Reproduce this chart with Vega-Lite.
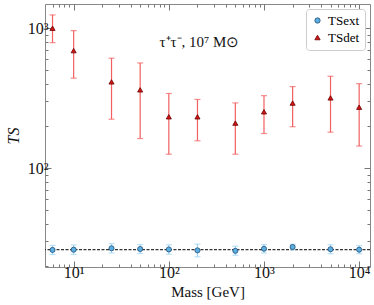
{
  "$schema": "https://vega.github.io/schema/vega-lite/v6.json",
  "width": 325,
  "height": 263,
  "autosize": "none",
  "padding": {"left": 45, "top": 4, "right": 4, "bottom": 38},
  "config": {
    "font": "Liberation Serif",
    "view": {"stroke": "#888", "strokeWidth": 1},
    "axis": {"grid": false, "domain": false, "labelFont": "Liberation Serif", "titleFont": "Liberation Serif", "labelColor": "#111", "titleColor": "#111", "tickColor": "#777", "titleFontWeight": "normal"},
    "scale": {"nice": false}
  },
  "data": {
    "values": [
      {"mass": 6, "series": "TSdet", "ts": 1000, "lo": 789, "hi": 1245},
      {"mass": 10, "series": "TSdet", "ts": 692, "lo": 440, "hi": 962},
      {"mass": 25, "series": "TSdet", "ts": 414, "lo": 224, "hi": 611},
      {"mass": 50, "series": "TSdet", "ts": 363, "lo": 163, "hi": 565},
      {"mass": 100, "series": "TSdet", "ts": 233, "lo": 126, "hi": 342},
      {"mass": 200, "series": "TSdet", "ts": 233, "lo": 157, "hi": 310},
      {"mass": 500, "series": "TSdet", "ts": 210, "lo": 126, "hi": 293},
      {"mass": 1000, "series": "TSdet", "ts": 253, "lo": 177, "hi": 330},
      {"mass": 2000, "series": "TSdet", "ts": 292, "lo": 198, "hi": 383},
      {"mass": 5000, "series": "TSdet", "ts": 318, "lo": 181, "hi": 454},
      {"mass": 10000, "series": "TSdet", "ts": 273, "lo": 144, "hi": 402},
      {"mass": 6, "series": "TSext", "ts": 26.1, "lo": 24.2, "hi": 28.1},
      {"mass": 10, "series": "TSext", "ts": 26.2, "lo": 24.2, "hi": 28.3},
      {"mass": 25, "series": "TSext", "ts": 26.8, "lo": 24.8, "hi": 28.9},
      {"mass": 50, "series": "TSext", "ts": 26.5, "lo": 24.6, "hi": 28.5},
      {"mass": 100, "series": "TSext", "ts": 26.3, "lo": 24.3, "hi": 28.4},
      {"mass": 200, "series": "TSext", "ts": 25.9, "lo": 23.3, "hi": 28.7},
      {"mass": 500, "series": "TSext", "ts": 25.7, "lo": 23.9, "hi": 27.7},
      {"mass": 1000, "series": "TSext", "ts": 26.6, "lo": 24.8, "hi": 28.5},
      {"mass": 2000, "series": "TSext", "ts": 27.4, "lo": 26.2, "hi": 28.6},
      {"mass": 5000, "series": "TSext", "ts": 26.4, "lo": 24.5, "hi": 28.4},
      {"mass": 10000, "series": "TSext", "ts": 26.2, "lo": 24.5, "hi": 28.0}
    ]
  },
  "resolve": {"axis": {"x": "independent", "y": "independent"}},
  "layer": [
    {
      "data": {"values": [{"level": 26.2}]},
      "mark": {"type": "rule", "color": "#333", "strokeDash": [3, 1.5], "strokeWidth": 1.2},
      "encoding": {
        "y": {"field": "level", "type": "quantitative", "scale": {"type": "log", "domain": [19.7, 1490], "nice": false}, "axis": null}
      }
    },
    {
      "transform": [{"filter": "datum.series == 'TSext'"}],
      "layer": [
        {"mark": {"type": "rule", "color": "#9fd4f2", "strokeWidth": 1.2}},
        {"mark": {"type": "tick", "orient": "horizontal", "color": "#9fd4f2", "size": 6, "thickness": 1.2}, "encoding": {"y": {"field": "lo", "type": "quantitative"}}},
        {"mark": {"type": "tick", "orient": "horizontal", "color": "#9fd4f2", "size": 6, "thickness": 1.2}, "encoding": {"y": {"field": "hi", "type": "quantitative"}}}
      ],
      "encoding": {
        "x": {"field": "mass", "type": "quantitative", "scale": {"type": "log", "domain": [5, 13000], "nice": false}, "axis": null},
        "y": {"field": "lo", "type": "quantitative", "axis": null},
        "y2": {"field": "hi"}
      }
    },
    {
      "transform": [{"filter": "datum.series == 'TSdet'"}],
      "layer": [
        {"mark": {"type": "rule", "color": "#f26060", "strokeWidth": 1.2}},
        {"mark": {"type": "tick", "orient": "horizontal", "color": "#f26060", "size": 6, "thickness": 1.2}, "encoding": {"y": {"field": "lo", "type": "quantitative"}}},
        {"mark": {"type": "tick", "orient": "horizontal", "color": "#f26060", "size": 6, "thickness": 1.2}, "encoding": {"y": {"field": "hi", "type": "quantitative"}}}
      ],
      "encoding": {
        "x": {"field": "mass", "type": "quantitative", "axis": null},
        "y": {"field": "lo", "type": "quantitative", "axis": null},
        "y2": {"field": "hi"}
      }
    },
    {
      "mark": {"type": "point", "filled": true, "opacity": 1, "size": 26, "strokeWidth": 0.8},
      "encoding": {
        "x": {"field": "mass", "type": "quantitative", "title": "Mass [GeV]",
          "axis": {"orient": "bottom", "values": [6,7,8,9,10,20,30,40,50,60,70,80,90,100,200,300,400,500,600,700,800,900,1000,2000,3000,4000,5000,6000,7000,8000,9000,10000],
            "labelExpr": "datum.value == 10 ? '10¹' : datum.value == 100 ? '10²' : datum.value == 1000 ? '10³' : datum.value == 10000 ? '10⁴' : ''",
            "tickSize": {"condition": {"test": "indexof([10,100,1000,10000], datum.value) >= 0", "value": -6}, "value": -3},
            "labelFontSize": 16, "labelPadding": 3, "titleFontSize": 15, "titlePadding": 1, "labelFlush": false, "labelOverlap": false}},
        "y": {"field": "ts", "type": "quantitative", "title": "TS",
          "axis": {"orient": "left", "values": [20,30,40,50,60,70,80,90,100,200,300,400,500,600,700,800,900,1000],
            "labelExpr": "datum.value == 100 ? '10²' : datum.value == 1000 ? '10³' : ''",
            "tickSize": {"condition": {"test": "indexof([100,1000], datum.value) >= 0", "value": -6}, "value": -3},
            "labelFontSize": 16, "labelPadding": 3, "titleFontSize": 16, "titleFontStyle": "italic", "titlePadding": 6, "labelFlush": false, "labelOverlap": false}},
        "fill": {"field": "series", "type": "nominal", "scale": {"domain": ["TSext", "TSdet"], "range": ["#5aaee0", "#d41414"]},
          "legend": {"title": null, "orient": "top-right", "offset": 5, "fillColor": "white", "strokeColor": "#ccc", "padding": 5, "cornerRadius": 3, "labelFont": "Liberation Serif", "labelFontSize": 13, "rowPadding": 3, "symbolSize": 28, "symbolStrokeWidth": 0.8}},
        "shape": {"field": "series", "type": "nominal", "scale": {"domain": ["TSext", "TSdet"], "range": ["circle", "triangle-up"]}},
        "stroke": {"field": "series", "type": "nominal", "scale": {"domain": ["TSext", "TSdet"], "range": ["#244f78", "#6a0000"]}, "legend": null}
      }
    },
    {
      "mark": {"type": "point", "opacity": 0},
      "encoding": {
        "x": {"field": "mass", "type": "quantitative",
          "axis": {"orient": "top", "title": null, "labels": false, "values": [6,7,8,9,10,20,30,40,50,60,70,80,90,100,200,300,400,500,600,700,800,900,1000,2000,3000,4000,5000,6000,7000,8000,9000,10000],
            "tickSize": {"condition": {"test": "indexof([10,100,1000,10000], datum.value) >= 0", "value": -6}, "value": -3}}},
        "y": {"field": "ts", "type": "quantitative",
          "axis": {"orient": "right", "title": null, "labels": false, "values": [20,30,40,50,60,70,80,90,100,200,300,400,500,600,700,800,900,1000],
            "tickSize": {"condition": {"test": "indexof([100,1000], datum.value) >= 0", "value": -6}, "value": -3}}}
      }
    },
    {
      "data": {"values": [{"label": "τ⁺τ⁻,  10⁷ M⊙", "mass": 210, "ts": 800}]},
      "mark": {"type": "text", "font": "Liberation Serif", "fontSize": 15, "fontWeight": "normal", "color": "#111"},
      "encoding": {
        "x": {"field": "mass", "type": "quantitative", "axis": null},
        "y": {"field": "ts", "type": "quantitative", "axis": null},
        "text": {"field": "label"}
      }
    }
  ]
}
